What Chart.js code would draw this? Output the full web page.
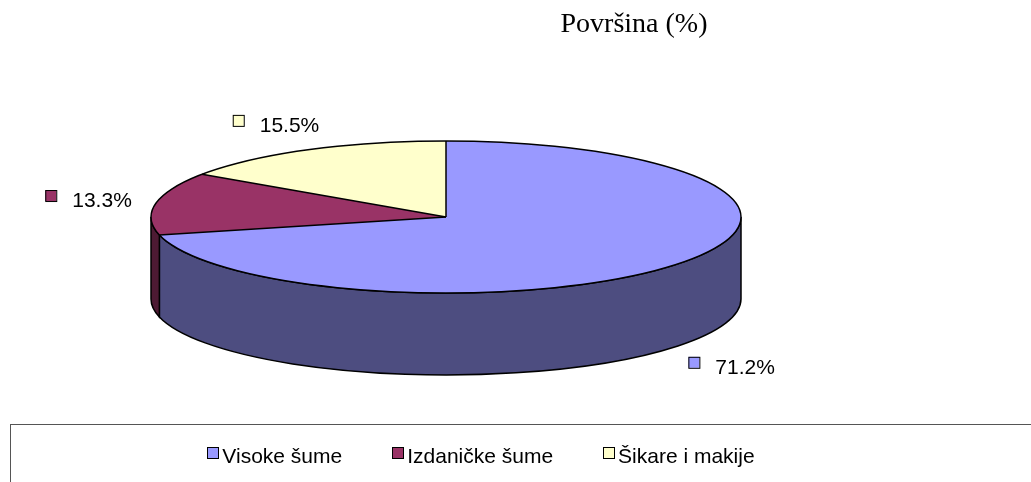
<!DOCTYPE html>
<html lang="hr">
<head>
<meta charset="UTF-8">
<title>Površina (%)</title>
<script src="https://cdn.jsdelivr.net/npm/chart.js"></script>
<style>
  html, body { margin: 0; padding: 0; background: #fff; }
  #wrap { position: relative; width: 1031px; height: 482px; overflow: hidden; }
  #pie { position: absolute; left: 0; top: 0; }
  #title { position: absolute; left: 534px; width: 200px; top: 7px; text-align: center;
           font: 28px "Liberation Serif", "Times New Roman", serif; color: #000; }
  #legendBox { position: absolute; left: 10px; top: 424px; width: 1100px; height: 100px; border: 1px solid #555; }
  #legend { position: absolute; left: 0; width: 962px; top: 444px; text-align: center; white-space: nowrap;
            font: 21px "Liberation Sans", Arial, sans-serif; line-height: 24px; color: #000; }
  .item { display: inline-block; margin: 0 25px; }
  .key { display: inline-block; width: 10px; height: 10px; border: 1px solid #000; margin: 0 3px 4px 0; }
</style>
</head>
<body>
<div id="wrap">
  <canvas id="pie" width="1031" height="482"></canvas>
  <div id="title">Površina (%)</div>
  <div id="legendBox"></div>
  <div id="legend"></div>
</div>
<script>
const categories = ["Visoke šume", "Izdaničke šume", "Šikare i makije"];
const shares = [71.2, 13.3, 15.5];
const shareLabels = ["71.2%", "13.3%", "15.5%"];
const topColors = ["#9999FF", "#993366", "#FFFFCC"];
const sideColors = ["#4D4D80", "#4D1A33", "#80806A"];

const TILT = 76 / 295;   // vertical squash of the top face
const DEPTH = 82;        // height of the pie wall
const LABEL_FONT = '21px "Liberation Sans", Arial, sans-serif';

// fake 3D: draw the front wall, then squash the library's slices into an ellipse
const pie3d = {
    id: "pie3d",
    beforeDatasetsDraw(chart) {
        const ctx = chart.ctx;
        const arcs = chart.getDatasetMeta(0).data;
        const cx = arcs[0].x, cy = arcs[0].y, rx = arcs[0].outerRadius, ry = rx * TILT;

        ctx.save();
        ctx.lineWidth = 1.5;
        ctx.strokeStyle = "#000";
        arcs.forEach((arc, i) => {
            const a0 = Math.max(arc.startAngle, 0);
            const a1 = Math.min(arc.endAngle, Math.PI);
            if (a1 <= a0) return;
            ctx.beginPath();
            ctx.ellipse(cx, cy, rx, ry, 0, a0, a1);
            ctx.lineTo(cx + rx * Math.cos(a1), cy + ry * Math.sin(a1) + DEPTH);
            ctx.ellipse(cx, cy + DEPTH, rx, ry, 0, a1, a0, true);
            ctx.closePath();
            ctx.fillStyle = sideColors[i];
            ctx.fill();
            ctx.stroke();
        });
        ctx.restore();

        ctx.save();
        ctx.translate(cx, cy);
        ctx.scale(1, TILT);
        ctx.translate(-cx, -cy);
    },
    afterDatasetsDraw(chart) {
        const ctx = chart.ctx;
        ctx.restore();

        const arcs = chart.getDatasetMeta(0).data;
        const cx = arcs[0].x, cy = arcs[0].y, rx = arcs[0].outerRadius, ry = rx * TILT;

        // outlines of the top face
        ctx.save();
        ctx.lineWidth = 1.5;
        ctx.strokeStyle = "#000";
        ctx.beginPath();
        ctx.ellipse(cx, cy, rx, ry, 0, 0, Math.PI * 2);
        ctx.stroke();
        arcs.forEach(arc => {
            ctx.beginPath();
            ctx.moveTo(cx, cy);
            ctx.lineTo(cx + rx * Math.cos(arc.startAngle), cy + ry * Math.sin(arc.startAngle));
            ctx.stroke();
        });
        ctx.restore();

        // value labels with colour keys
        ctx.save();
        ctx.font = LABEL_FONT;
        ctx.textBaseline = "middle";
        ctx.textAlign = "left";
        arcs.forEach((arc, i) => {
            const m = (arc.startAngle + arc.endAngle) / 2;
            const c = Math.cos(m), s = Math.sin(m);
            const tw = ctx.measureText(shareLabels[i]).width;
            const w = 11 + 16 + tw, h = 21;
            const ax = cx + (rx + 25) * c;
            const ay = cy + (ry + 20) * s + (s > 0 ? DEPTH : 0);
            const left = ax + (w / 2) * c - w / 2;
            const mid = ay + (h / 2) * s;
            ctx.fillStyle = topColors[i];
            ctx.fillRect(left, mid - 8, 11, 11);
            ctx.lineWidth = 1;
            ctx.strokeStyle = "#000";
            ctx.strokeRect(left + 0.5, mid - 7.5, 11, 11);
            ctx.fillStyle = "#000";
            ctx.fillText(shareLabels[i], left + 27, mid + 3);
        });
        ctx.restore();
    }
};

new Chart(document.getElementById("pie"), {
    type: "pie",
    data: {
        labels: categories,
        datasets: [{
            data: shares,
            backgroundColor: topColors,
            borderWidth: 0,
            clip: 10000
        }]
    },
    options: {
        responsive: false,
        animation: false,
        events: [],
        radius: 295,
        layout: { padding: { left: 0, right: 139, top: 0, bottom: 48 } },
        plugins: {
            legend: { display: false },
            tooltip: { enabled: false },
            title: { display: false }
        }
    },
    plugins: [pie3d]
});

// legend below the chart
const legend = document.getElementById("legend");
categories.forEach((name, i) => {
    const item = document.createElement("span");
    item.className = "item";
    const key = document.createElement("span");
    key.className = "key";
    key.style.background = topColors[i];
    item.appendChild(key);
    item.appendChild(document.createTextNode(name));
    legend.appendChild(item);
});
</script>
</body>
</html>
